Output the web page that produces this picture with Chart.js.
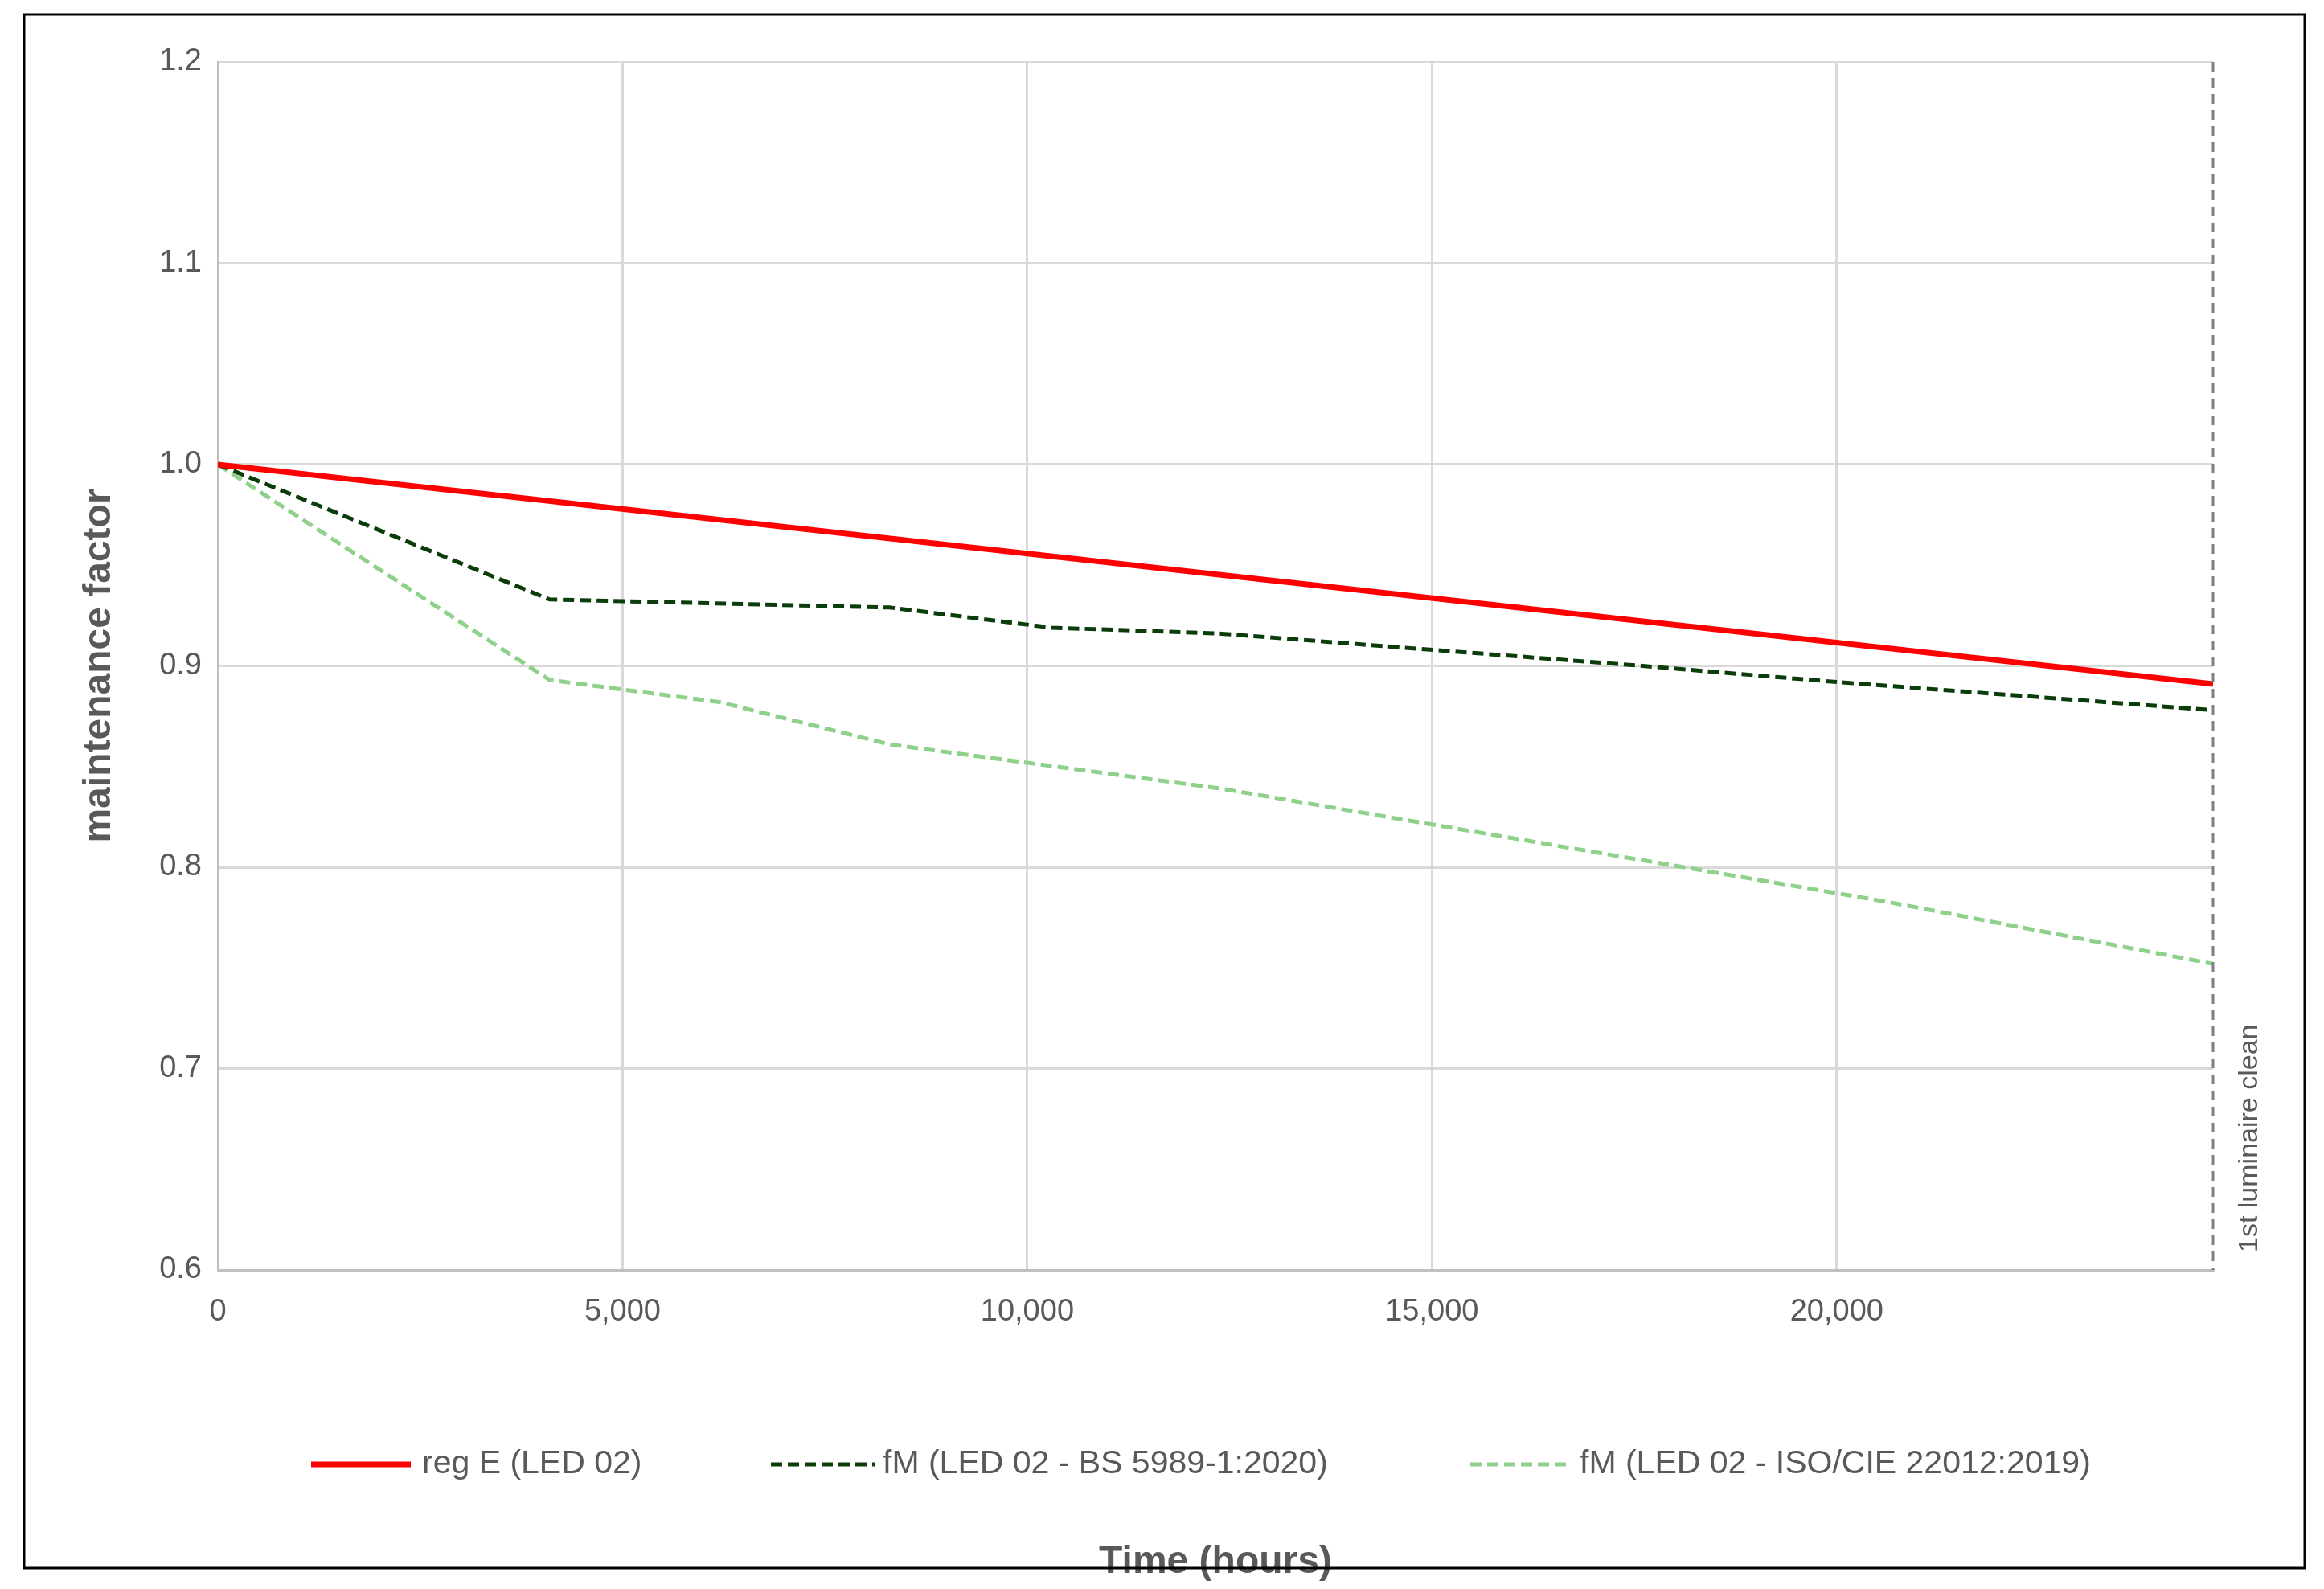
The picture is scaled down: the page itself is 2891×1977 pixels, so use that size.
<!DOCTYPE html>
<html><head><meta charset="utf-8">
<script src="https://cdn.jsdelivr.net/npm/chart.js@4/dist/chart.umd.min.js"></script>
<style>html,body{margin:0;padding:0;background:#fff}canvas{display:block}</style>
</head><body>
<div style="width:2891px;height:1977px"><canvas id="c"></canvas></div>
<script>
const seriesNames = ["reg E (LED 02)", "fM (LED 02 - BS 5989-1:2020)", "fM (LED 02 - ISO/CIE 22012:2019)"];
const regHours = [0, 24650];
const regValues = [1.0, 0.891];
const bsHours = [0, 4100, 8300, 10300, 12400, 17600, 20000, 24650];
const bsValues = [1.0, 0.933, 0.929, 0.919, 0.916, 0.900, 0.892, 0.878];
const isoHours = [0, 4100, 6200, 8300, 12400, 16500, 20600, 24650];
const isoValues = [1.0, 0.893, 0.882, 0.861, 0.839, 0.811, 0.783, 0.752];
const xTickValues = [0, 5000, 10000, 15000, 20000];
const cleanHour = 24650;
const cleanLabel = "1st luminaire clean";
const xTitle = "Time (hours)";
const yTitle = "maintenance factor";

const pts = (xs, ys) => xs.map((x, i) => ({x, y: ys[i]}));
const grey = '#595959';
const FONT = '"Liberation Sans", Arial, sans-serif';

const overlay = {
  id: 'overlay',
  beforeDraw(chart) {
    const ctx = chart.ctx;
    ctx.save();
    ctx.fillStyle = '#fff';
    ctx.fillRect(0, 0, chart.width, chart.height);
    ctx.restore();
  },
  afterDatasetsDraw(chart) {
    const ctx = chart.ctx, xs = chart.scales.x, a = chart.chartArea;
    const px = xs.getPixelForValue(cleanHour);
    ctx.save();
    ctx.strokeStyle = '#7f7f7f';
    ctx.lineWidth = 3;
    ctx.setLineDash([12, 8]);
    ctx.beginPath(); ctx.moveTo(px, a.top); ctx.lineTo(px, a.bottom); ctx.stroke();
    ctx.setLineDash([]);
    ctx.translate(px + 46, a.bottom - 22);
    ctx.rotate(-Math.PI / 2);
    ctx.fillStyle = grey;
    ctx.font = '34px ' + FONT;
    ctx.textBaseline = 'middle';
    ctx.fillText(cleanLabel, 0, 0);
    ctx.restore();

    // legend
    const items = [[387, 511, 525], [959, 1088, 1098], [1829, 1955, 1965]];
    const ly = 1822;
    ctx.save();
    ctx.font = '41px ' + FONT;
    ctx.textBaseline = 'middle';
    chart.data.datasets.forEach((ds, i) => {
      const [x0, x1, tx] = items[i];
      ctx.strokeStyle = ds.borderColor;
      ctx.lineWidth = ds.borderWidth;
      ctx.setLineDash(ds.borderDash || []);
      ctx.beginPath(); ctx.moveTo(x0, ly); ctx.lineTo(x1, ly); ctx.stroke();
      ctx.setLineDash([]);
      ctx.fillStyle = grey;
      ctx.fillText(ds.label, tx, ly);
    });
    ctx.restore();

    ctx.save();
    ctx.strokeStyle = '#000';
    ctx.lineWidth = 3;
    ctx.strokeRect(30, 18, 2837, 1933);
    ctx.restore();
  }
};

new Chart(document.getElementById('c'), {
  type: 'line',
  data: {
    datasets: [
      {label: seriesNames[0], data: pts(regHours, regValues), borderColor: '#ff0000', backgroundColor: '#ff0000', borderWidth: 7, pointRadius: 0, tension: 0},
      {label: seriesNames[1], data: pts(bsHours, bsValues), borderColor: '#0b3d0b', backgroundColor: '#0b3d0b', borderWidth: 5, borderDash: [14, 7], pointRadius: 0, tension: 0},
      {label: seriesNames[2], data: pts(isoHours, isoValues), borderColor: '#8fd18a', backgroundColor: '#8fd18a', borderWidth: 5, borderDash: [14, 7], pointRadius: 0, tension: 0}
    ]
  },
  options: {
    responsive: true, maintainAspectRatio: false, animation: false,
    devicePixelRatio: 1,
    layout: {padding: {left: 85, right: 138, top: 77, bottom: 0}},
    plugins: {legend: {display: false}, tooltip: {enabled: false}},
    scales: {
      x: {
        type: 'linear', min: 0, max: cleanHour,
        afterBuildTicks: s => { s.ticks = xTickValues.map(v => ({value: v})); },
        afterFit: s => { s.height = 1977 - 1580; },
        ticks: {color: grey, padding: 30, font: {size: 38, family: FONT},
          callback: v => Number(v).toLocaleString('en-US')},
        grid: {color: '#d9d9d9', lineWidth: 3, drawTicks: false},
        border: {color: '#bfbfbf', width: 3},
        title: {display: true, text: xTitle, color: grey, align: 'center',
          font: {size: 48, weight: 'bold', family: FONT}}
      },
      y: {
        min: 0.6, max: 1.2,
        afterFit: s => { s.width = 186; },
        ticks: {stepSize: 0.1, color: grey, padding: 20, font: {size: 38, family: FONT},
          callback: v => Number(v).toFixed(1)},
        grid: {color: '#d9d9d9', lineWidth: 3, drawTicks: false},
        border: {color: '#bfbfbf', width: 3},
        title: {display: true, text: yTitle, color: grey, padding: 10,
          font: {size: 48, weight: 'bold', family: FONT}}
      }
    }
  },
  plugins: [overlay]
});
</script>
</body></html>
